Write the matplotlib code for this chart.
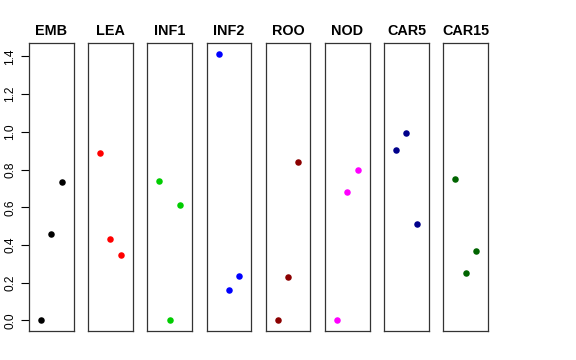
import matplotlib
matplotlib.use("Agg")
import matplotlib.pyplot as plt

plt.rcParams['font.family'] = ['Liberation Sans', 'DejaVu Sans']

categories = ["EMB", "LEA", "INF1", "INF2", "ROO", "NOD", "CAR5", "CAR15"]
values = {
    "EMB":   [0.000, 0.457, 0.732],
    "LEA":   [0.888, 0.431, 0.347],
    "INF1":  [0.737, 0.000, 0.613],
    "INF2":  [1.415, 0.160, 0.236],
    "ROO":   [0.000, 0.229, 0.840],
    "NOD":   [0.000, 0.681, 0.800],
    "CAR5":  [0.902, 0.996, 0.512],
    "CAR15": [0.748, 0.252, 0.370],
}
colors = ["#000000", "#FF0000", "#00CD00", "#0000FF", "#8B0000", "#FF00FF", "#00008B", "#006400"]
yticks = [0.0, 0.2, 0.4, 0.6, 0.8, 1.0, 1.2, 1.4]
xpos = [1, 2, 3]

W, H = 576, 360
fig = plt.figure(figsize=(W / 100, H / 100), dpi=100)

ymax = max(max(v) for v in values.values())
ylo, yhi = 0 - 0.04 * ymax, ymax + 0.04 * ymax

left0, step, pw = 29, 59.2, 44.5
top, bottom = 43, 331
for i, cat in enumerate(categories):
    x0 = left0 + i * step
    ax = fig.add_axes([x0 / W, 1 - bottom / H, pw / W, (bottom - top) / H])
    ax.scatter(xpos, values[cat], s=22, color=colors[i], zorder=3, linewidths=0)
    ax.set_xlim(-0.16, 4.16)
    ax.set_ylim(ylo, yhi)
    ax.set_xticks([])
    ax.set_title(cat, fontsize=10.4, fontweight='bold', pad=6)
    for sp in ax.spines.values():
        sp.set_linewidth(0.9)
        sp.set_color('#333333')
    if i == 0:
        ax.set_yticks(yticks)
        ax.set_yticklabels([f"{t:.1f}" for t in yticks], rotation=90, va='center', fontsize=8.6)
        ax.tick_params(axis='y', length=6, width=0.8, pad=3)
    else:
        ax.set_yticks([])

fig.savefig("out.png", dpi=100)
